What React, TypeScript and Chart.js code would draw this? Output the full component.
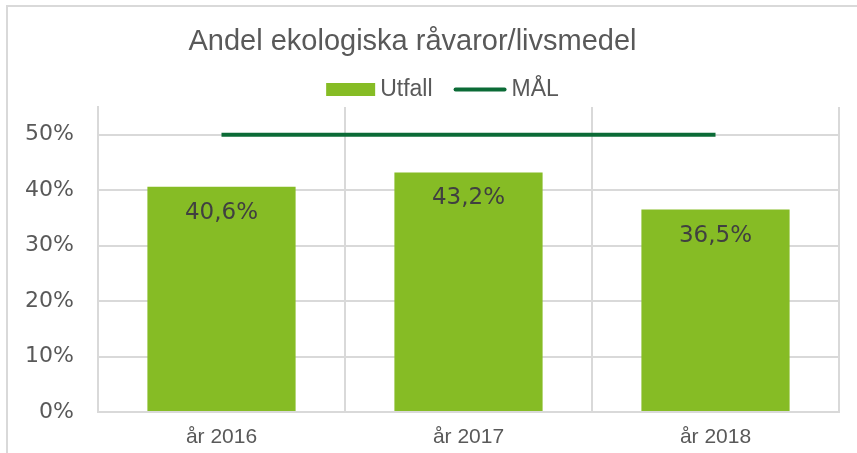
import React, { useEffect, useRef } from "react";
import { Chart, registerables } from "chart.js";

Chart.register(...registerables);

const TITLE = "Andel ekologiska råvaror/livsmedel";
const categories = ["år 2016", "år 2017", "år 2018"];
const utfall = [0.406, 0.432, 0.365];
const mal = [0.5, 0.5, 0.5];
const yTicks = [0, 0.1, 0.2, 0.3, 0.4, 0.5];

const BAR_COLOR = "#86BC25";
const LINE_COLOR = "#0B6B36";
const GRID = "#D9D9D9";
const TEXT = "#595959";

const fmtPct = (v: number) => (v * 100).toFixed(1).replace(".", ",") + "%";

const headerPlugin = {
  id: "header",
  afterDraw(chart: any) {
    const ctx = chart.ctx;
    ctx.save();
    // title
    ctx.font = "29px 'Liberation Sans', Arial, sans-serif";
    ctx.fillStyle = TEXT;
    ctx.textAlign = "center";
    ctx.textBaseline = "alphabetic";
    ctx.fillText(TITLE, 412.5, 50);

    // legend
    ctx.font = "23px 'Liberation Sans', Arial, sans-serif";
    const ds = chart.data.datasets;
    const boxW = 49, boxH = 13, lineW = 53, gapIcon = 5, gapItem = 21;
    const widths = ds.map((d: any) => ctx.measureText(d.label).width);
    const total = boxW + gapIcon + widths[0] + gapItem + lineW + gapIcon + widths[1];
    let x = 442.5 - total / 2;
    const cy = 89.5;
    ctx.textAlign = "left";
    ctx.textBaseline = "middle";
    ds.forEach((d: any, i: number) => {
      if (d.type === "line") {
        ctx.strokeStyle = d.borderColor;
        ctx.lineWidth = 4;
        ctx.lineCap = "round";
        ctx.beginPath();
        ctx.moveTo(x + 2, cy);
        ctx.lineTo(x + lineW - 2, cy);
        ctx.stroke();
        x += lineW + gapIcon;
      } else {
        ctx.fillStyle = d.backgroundColor;
        ctx.fillRect(x, cy - boxH / 2, boxW, boxH);
        x += boxW + gapIcon;
      }
      ctx.fillStyle = TEXT;
      ctx.fillText(d.label, x, cy);
      x += widths[i] + gapItem;
    });
    ctx.restore();
  },
};

const labelPlugin = {
  id: "barLabels",
  afterDatasetsDraw(chart: any) {
    const ctx = chart.ctx;
    const meta = chart.getDatasetMeta(0);
    ctx.save();
    ctx.font = "23px 'DejaVu Sans', Verdana, sans-serif";
    ctx.fillStyle = "#404040";
    ctx.textAlign = "center";
    ctx.textBaseline = "middle";
    meta.data.forEach((bar: any, i: number) => {
      ctx.fillText(fmtPct(chart.data.datasets[0].data[i]), bar.x, bar.y + 26);
    });
    ctx.restore();
  },
};

export default function App() {
  const ref = useRef<HTMLCanvasElement>(null);
  useEffect(() => {
    if (!ref.current) return;
    const chart = new Chart(ref.current, {
      type: "bar",
      data: {
        labels: categories,
        datasets: [
          {
            type: "bar",
            label: "Utfall",
            data: utfall,
            backgroundColor: BAR_COLOR,
            barPercentage: 0.6,
            categoryPercentage: 1,
            order: 2,
          } as any,
          {
            type: "line",
            label: "MÅL",
            data: mal,
            borderColor: LINE_COLOR,
            backgroundColor: LINE_COLOR,
            borderWidth: 4,
            pointRadius: 0,
            fill: false,
            order: 1,
          } as any,
        ],
      },
      options: {
        responsive: false,
        animation: false,
        layout: { padding: { top: 107, left: 8, right: 18, bottom: 0 } },
        plugins: {
          legend: { display: false },
          title: { display: false },
          tooltip: { enabled: false },
        },
        scales: {
          x: {
            offset: true,
            afterFit: (scale: any) => {
              scale.height = 41;
            },
            grid: { display: true, offset: true, color: GRID, lineWidth: 2, drawTicks: false },
            border: { display: true, color: GRID, width: 2 },
            ticks: {
              color: TEXT,
              padding: 13,
              maxRotation: 0,
              font: { family: "'Liberation Sans', Arial, sans-serif", size: 21 },
            },
          },
          y: {
            min: 0,
            max: 0.55,
            afterBuildTicks: (scale: any) => {
              scale.ticks = yTicks.map((v) => ({ value: v }));
            },
            afterFit: (scale: any) => {
              scale.width = 90;
            },
            grid: { color: GRID, lineWidth: 2, drawTicks: false },
            border: { display: true, color: GRID, width: 2 },
            ticks: {
              color: TEXT,
              padding: 24,
              font: { family: "'DejaVu Sans', Verdana, sans-serif", size: 22 },
              callback: (v: any) => Math.round(Number(v) * 100) + "%",
            },
          },
        },
      },
      plugins: [headerPlugin, labelPlugin],
    });
    return () => chart.destroy();
  }, []);

  return (
    <>
      <div
        style={{
          position: "absolute",
          left: 6,
          top: 5,
          width: 851,
          height: 448,
          boxSizing: "border-box",
          borderTop: `2px solid ${GRID}`,
          borderLeft: `2px solid ${GRID}`,
        }}
      />
      <div style={{ position: "absolute", left: 0, top: 0, width: 857, height: 453 }}>
        <canvas ref={ref} width={857} height={453} style={{ display: "block" }} />
      </div>
    </>
  );
}
